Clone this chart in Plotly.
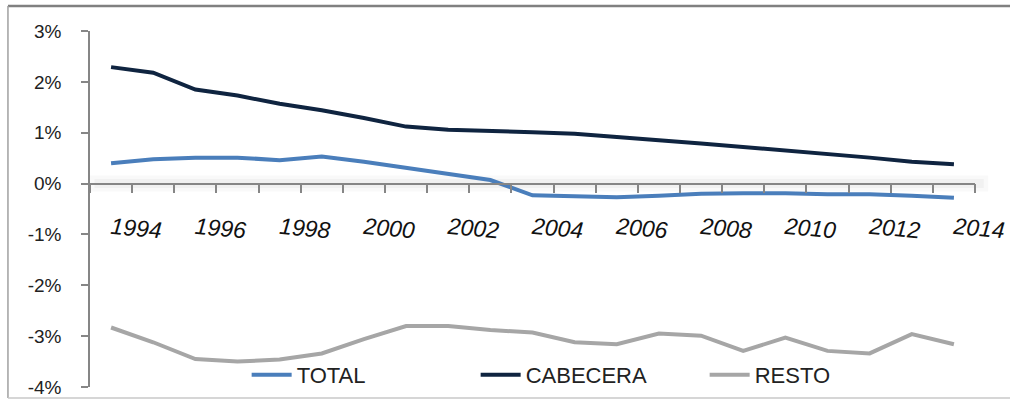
import plotly.graph_objects as go

years = list(range(1994, 2015))
total = [0.40, 0.48, 0.51, 0.51, 0.46, 0.53, 0.43, 0.31, 0.20, 0.07, -0.23, -0.25, -0.27, -0.24, -0.20, -0.19, -0.19, -0.21, -0.21, -0.24, -0.28]
cabecera = [2.29, 2.18, 1.85, 1.73, 1.57, 1.44, 1.29, 1.12, 1.06, 1.04, 1.01, 0.98, 0.91, 0.85, 0.79, 0.72, 0.65, 0.59, 0.51, 0.43, 0.38]
resto = [-2.83, -3.12, -3.45, -3.50, -3.46, -3.34, -3.06, -2.80, -2.80, -2.88, -2.93, -3.12, -3.16, -2.95, -2.99, -3.29, -3.03, -3.29, -3.34, -2.96, -3.16]

x_tick_years = list(range(1994, 2015, 2))
y_tick_vals = [3, 2, 1, 0, -1, -2, -3, -4]
y_tick_text = ["3%", "2%", "1%", "0%", "-1%", "-2%", "-3%", "-4%"]

fig = go.Figure()
fig.add_trace(go.Scatter(x=years, y=total, name="TOTAL", mode="lines",
                         line=dict(color="#4a7ebb", width=4)))
fig.add_trace(go.Scatter(x=years, y=cabecera, name="CABECERA", mode="lines",
                         line=dict(color="#0f2440", width=4)))
fig.add_trace(go.Scatter(x=years, y=resto, name="RESTO", mode="lines",
                         line=dict(color="#a6a6a6", width=4)))

axis_color = "#868686"

fig.update_layout(
    width=1010, height=402,
    margin=dict(l=90, r=35, t=31, b=15, autoexpand=False),
    paper_bgcolor="white", plot_bgcolor="white",
    font=dict(family="Liberation Sans", color="#222222"),
    showlegend=True,
    legend=dict(orientation="h", x=0.177, xanchor="left", y=0.034, yanchor="middle",
                font=dict(size=22, family="Liberation Sans", color="#222222"),
                bgcolor="rgba(0,0,0,0)", entrywidth=174, itemwidth=40,
                tracegroupgap=0),
    xaxis=dict(
        range=[1993.5, 2014.5], anchor="free", position=4 / 7, automargin=False,
        tickmode="array", tickvals=x_tick_years, ticktext=[str(v) for v in x_tick_years],
        ticks="", tickangle=5, ticklabelstandoff=22,
        tickfont=dict(size=23, family="Liberation Sans", color="#111111", style="italic"),
        showline=True, linecolor=axis_color, linewidth=1.5,
        showgrid=False, zeroline=False,
        minor=dict(ticks="outside", tick0=1993.5, dtick=1, ticklen=9,
                   tickcolor=axis_color, tickwidth=1.5, showgrid=False),
    ),
    yaxis=dict(
        range=[-4, 3], tickmode="array", tickvals=y_tick_vals, ticktext=y_tick_text,
        automargin=False,
        ticks="outside", ticklen=7, tickcolor=axis_color, tickwidth=1.5,
        ticklabelstandoff=16,
        tickfont=dict(size=19, family="Liberation Sans", color="#222222"),
        showline=True, linecolor=axis_color, linewidth=1.5,
        showgrid=False, zeroline=False,
    ),
    shapes=[
        # soft shadow under the horizontal axis
        dict(type="line", xref="paper", yref="y", x0=0, x1=1.015, y0=0, y1=0,
             ysizemode="pixel", yanchor=0,
             line=dict(color="rgba(0,0,0,0.025)", width=16), layer="below"),
        dict(type="line", xref="paper", yref="y", x0=0.005, x1=1.01, y0=0, y1=0,
             ysizemode="pixel", yanchor=0,
             line=dict(color="rgba(0,0,0,0.03)", width=9), layer="below"),
        # outer chart border
        dict(type="line", xref="paper", yref="paper", x0=-0.0927, x1=1.05, y0=1.0705, y1=1.0705,
             line=dict(color="#808080", width=2.5)),
        dict(type="line", xref="paper", yref="paper", x0=-0.0927, x1=-0.0927, y0=1.0705, y1=-0.031,
             line=dict(color="#a0a0a0", width=1.5)),
        dict(type="line", xref="paper", yref="paper", x0=-0.0927, x1=1.05, y0=-0.031, y1=-0.031,
             line=dict(color="#c8c8c8", width=1.5)),
    ],
)

fig.write_html("out.html",
               config={"displayModeBar": False},
               post_script="document.body.style.margin='0px';document.body.style.overflow='hidden';")
